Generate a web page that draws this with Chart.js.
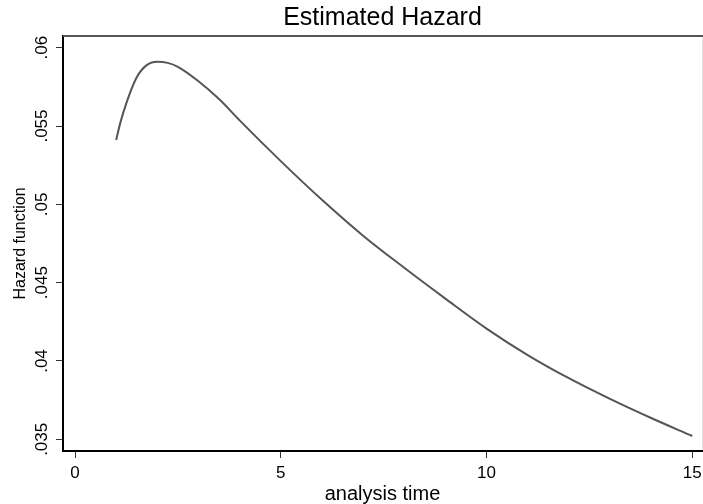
<!DOCTYPE html>
<html>
<head>
<meta charset="utf-8">
<script src="https://cdn.jsdelivr.net/npm/chart.js@4/dist/chart.umd.min.js"></script>
<style>
html,body{margin:0;padding:0;background:#fff;}
canvas{display:block;}
</style>
</head>
<body>
<canvas id="hazardChart" width="703" height="504"></canvas>
<script>
// data
const analysisTime=[1,1.1,1.25,1.5,1.75,2,2.25,2.5,3,3.5,4,5,6,7,8,9,10,11,12,13,14,15];
const hazardValues=[0.05411,0.05520,0.05648,0.05811,0.05890,0.05910,0.05903,0.05878,0.05786,0.05672,0.05536,0.05276,0.05029,0.04800,0.04595,0.04398,0.04207,0.04038,0.03890,0.03758,0.03636,0.03521];
const xTicks=[0,5,10,15];
const yTicks=[0.035,0.04,0.045,0.05,0.055,0.06];
const yTickLabels=['.035','.04','.045','.05','.055','.06'];

const FONT='"Liberation Sans", Arial, sans-serif';
const points=analysisTime.map((t,i)=>({x:t,y:hazardValues[i]}));

// top + right frame of the plot region
const frame={
  id:'frame',
  afterDraw(chart){
    const {ctx,chartArea:a}=chart;
    ctx.save();
    ctx.strokeStyle='#555'; ctx.lineWidth=2;
    ctx.beginPath(); ctx.moveTo(a.left,a.top); ctx.lineTo(a.right+1,a.top); ctx.stroke();
    ctx.strokeStyle='#e4e4e4'; ctx.lineWidth=1;
    ctx.beginPath(); ctx.moveTo(a.right+0.5,a.top+1); ctx.lineTo(a.right+0.5,a.bottom-1); ctx.stroke();
    ctx.restore();
  }
};

new Chart(document.getElementById('hazardChart'),{
  type:'line',
  data:{datasets:[{data:points,borderColor:'#555',borderWidth:2,pointRadius:0,fill:false,cubicInterpolationMode:'monotone'}]},
  options:{
    responsive:false,animation:false,devicePixelRatio:1,
    layout:{padding:{top:0,right:1,bottom:0,left:0}},
    plugins:{
      legend:{display:false},tooltip:{enabled:false},
      title:{display:true,fullSize:false,text:'Estimated Hazard',color:'#000',font:{family:FONT,size:25,weight:'normal'},padding:{top:3,bottom:3}}
    },
    scales:{
      x:{
        type:'linear',min:-0.292,max:15.236,
        afterBuildTicks:ax=>{ax.ticks=xTicks.map(v=>({value:v}));},
        afterFit:ax=>{ax.height=53;ax.paddingLeft=0;ax.paddingRight=0;},
        grid:{display:true,drawOnChartArea:false,drawTicks:true,tickLength:7,color:'#333',lineWidth:1},
        border:{display:true,color:'#000',width:2},
        ticks:{color:'#000',font:{family:FONT,size:17},padding:5,maxRotation:0,autoSkip:false,callback:v=>String(v)},
        title:{display:true,text:'analysis time',color:'#000',font:{family:FONT,size:20},padding:{top:0,bottom:-2}}
      },
      y:{
        type:'linear',min:0.034254,max:0.060746,
        afterBuildTicks:ax=>{ax.ticks=yTicks.map(v=>({value:v}));},
        afterFit:ax=>{ax.width=63;ax.paddingTop=0;ax.paddingBottom=0;},
        grid:{display:true,drawOnChartArea:false,drawTicks:true,tickLength:7,color:'#333',lineWidth:1},
        border:{display:true,color:'#000',width:2},
        ticks:{color:'#000',font:{family:FONT,size:17},padding:-3,minRotation:90,maxRotation:90,crossAlign:'center',autoSkip:false,
          callback:(v,i)=>yTickLabels[i]},
        title:{display:true,text:'Hazard function',color:'#000',font:{family:FONT,size:16},padding:{top:11,bottom:0}}
      }
    }
  },
  plugins:[frame]
});
</script>
</body>
</html>
